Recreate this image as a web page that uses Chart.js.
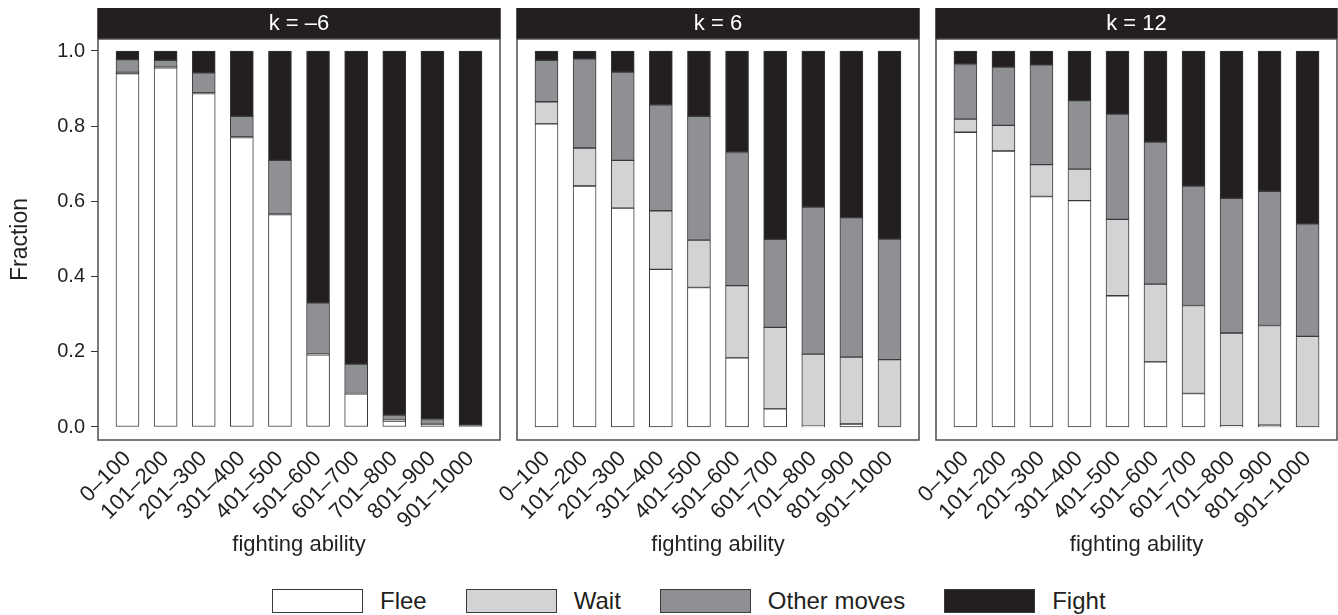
<!DOCTYPE html>
<html lang="en">
<head>
<meta charset="utf-8">
<title>Fraction by fighting ability</title>
<script src="https://cdn.jsdelivr.net/npm/chart.js@4.4.1/dist/chart.umd.min.js"></script>
<style>
    html, body { margin: 0; padding: 0; background: #ffffff; }
    #pagina {
        position: relative; width: 1338px; height: 615px; overflow: hidden;
        font-family: "Liberation Sans", Arial, sans-serif; color: #231f20;
    }
    .pannello { position: absolute; top: 0; }
    #legenda {
        position: absolute; left: 272px; top: 589px;
        display: flex; align-items: center; font-size: 24px; line-height: 24px;
    }
    .voce { display: flex; align-items: center; margin-right: 39px; }
    .quadrato { width: 89px; height: 22px; border: 1px solid #3a3a3a; margin-right: 17px; }
</style>
</head>
<body>
<div id="pagina">
    <canvas id="canvasA" class="pannello" width="505" height="570" style="left:0px"></canvas>
    <canvas id="canvasB" class="pannello" width="467" height="570" style="left:457px"></canvas>
    <canvas id="canvasC" class="pannello" width="462" height="570" style="left:876px"></canvas>
    <div id="legenda"></div>
</div>
<script>
"use strict";

// ============================================================
// DATI (frazioni, ogni colonna somma a 1)
// ============================================================
const fasce = ["0–100", "101–200", "201–300", "301–400", "401–500",
               "501–600", "601–700", "701–800", "801–900", "901–1000"];
const titoliPannelli = ["k = –6", "k = 6", "k = 12"];
const tickY = [0, 0.2, 0.4, 0.6, 0.8, 1.0];
const serie = ["Flee", "Wait", "Other moves", "Fight"];
const colori = ["#ffffff", "#d1d3d4", "#8e9094", "#231f20"];

// k = -6
const fleeKm6  = [0.940, 0.955, 0.887, 0.770, 0.565, 0.192, 0.088, 0.016, 0.008, 0.000];
const waitKm6  = [0.003, 0.002, 0.002, 0.002, 0.002, 0.002, 0.001, 0.002, 0.001, 0.000];
const otherKm6 = [0.034, 0.018, 0.053, 0.054, 0.142, 0.136, 0.078, 0.014, 0.011, 0.004];
const fightKm6 = [0.023, 0.025, 0.058, 0.174, 0.291, 0.670, 0.833, 0.968, 0.980, 0.996];

// k = 6
const fleeK6  = [0.806, 0.641, 0.582, 0.419, 0.371, 0.184, 0.048, 0.002, 0.008, 0.000];
const waitK6  = [0.059, 0.101, 0.127, 0.156, 0.126, 0.192, 0.217, 0.192, 0.178, 0.179];
const otherK6 = [0.110, 0.237, 0.235, 0.282, 0.329, 0.354, 0.234, 0.391, 0.371, 0.321];
const fightK6 = [0.025, 0.021, 0.056, 0.143, 0.174, 0.270, 0.501, 0.415, 0.443, 0.500];

// k = 12
const fleeK12  = [0.784, 0.734, 0.613, 0.602, 0.349, 0.173, 0.089, 0.003, 0.005, 0.000];
const waitK12  = [0.035, 0.068, 0.085, 0.084, 0.203, 0.207, 0.234, 0.247, 0.265, 0.241];
const otherK12 = [0.145, 0.155, 0.265, 0.182, 0.280, 0.378, 0.318, 0.358, 0.357, 0.299];
const fightK12 = [0.036, 0.043, 0.037, 0.132, 0.168, 0.242, 0.359, 0.392, 0.373, 0.460];

const datiPannelli = [
    [fleeKm6, waitKm6, otherKm6, fightKm6],
    [fleeK6, waitK6, otherK6, fightK6],
    [fleeK12, waitK12, otherK12, fightK12]
];

const COLORE_TESTO = "#231f20";
Chart.defaults.font.family = "'Liberation Sans', Arial, sans-serif";
Chart.defaults.color = COLORE_TESTO;

// ============================================================
// PLUGIN — striscia nera col titolo e riquadro del pannello
// ============================================================
const pluginRiquadro = {
    id: "riquadro",
    afterDraw(chart, args, opts) {
        let a = chart.chartArea;
        let ctx = chart.ctx;
        ctx.save();
        // striscia sopra il pannello
        ctx.fillStyle = "#231f20";
        ctx.fillRect(a.left - 0.75, a.top - 31, a.right - a.left + 1.5, 31);
        ctx.fillStyle = "#ffffff";
        ctx.font = "22px 'Liberation Sans', Arial, sans-serif";
        ctx.textAlign = "center";
        ctx.textBaseline = "middle";
        ctx.fillText(opts.testo, (a.left + a.right) / 2, a.top - 15);
        // bordo del pannello
        ctx.strokeStyle = "#4d4d4d";
        ctx.lineWidth = 1.5;
        ctx.strokeRect(a.left, a.top, a.right - a.left, a.bottom - a.top);
        ctx.restore();
    }
};

// ============================================================
// creaPannello() — un grafico a barre impilate per ogni k
// ============================================================
function creaPannello(idCanvas, indice, conAsseY, padSx, padDx) {
    let datasets = [];
    for (let s = 0; s < serie.length; s++) {
        datasets.push({
            label: serie[s],
            data: datiPannelli[indice][s].map((v, i) => ({ x: i + 1, y: v })),
            backgroundColor: colori[s],
            borderColor: "#3a3a3a",
            borderWidth: 1,
            borderSkipped: false,
            barThickness: 23
        });
    }

    return new Chart(document.getElementById(idCanvas), {
        type: "bar",
        data: { datasets: datasets },
        plugins: [pluginRiquadro],
        options: {
            responsive: false,
            animation: false,
            events: [],
            layout: { padding: { left: padSx, right: padDx, top: 39, bottom: 0 } },
            plugins: {
                legend: { display: false },
                tooltip: { enabled: false },
                riquadro: { testo: titoliPannelli[indice] }
            },
            scales: {
                x: {
                    type: "linear",
                    stacked: true,
                    offset: false,
                    bounds: "data",
                    min: 0.226,
                    max: 10.774,
                    grid: { display: false, drawTicks: false, offset: false },
                    border: { display: false },
                    afterBuildTicks: function (s) {
                        s.ticks = fasce.map((f, i) => ({ value: i + 1 }));
                    },
                    ticks: {
                        autoSkip: false,
                        minRotation: 45,
                        maxRotation: 45,
                        padding: 6,
                        font: { size: 22 },
                        callback: v => fasce[v - 1]
                    },
                    title: {
                        display: true,
                        text: "fighting ability",
                        font: { size: 22 },
                        padding: { top: 0, bottom: 12 }
                    },
                    afterFit: function (s) { s.height = 130; }
                },
                y: {
                    type: "linear",
                    stacked: true,
                    display: conAsseY,
                    bounds: "data",
                    min: -0.0346,
                    max: 1.0319,
                    afterBuildTicks: function (s) {
                        s.ticks = tickY.map(v => ({ value: v }));
                    },
                    ticks: {
                        padding: 6,
                        font: { size: 20 },
                        callback: v => v.toFixed(1)
                    },
                    grid: { display: true, drawOnChartArea: false, tickLength: 7, color: "#333333" },
                    border: { display: false },
                    title: {
                        display: true,
                        text: "Fraction",
                        font: { size: 23 },
                        padding: { top: 7, bottom: 0 }
                    },
                    // solo il primo pannello ha l'asse Y con le etichette
                    afterFit: function (s) { s.width = conAsseY ? 98 : 0; }
                }
            }
        }
    });
}

// ============================================================
// creaLegenda() — legenda in basso, costruita dalle serie
// ============================================================
function creaLegenda() {
    let legenda = document.getElementById("legenda");
    for (let i = 0; i < serie.length; i++) {
        let voce = document.createElement("div");
        voce.className = "voce";
        let quadrato = document.createElement("div");
        quadrato.className = "quadrato";
        quadrato.style.background = colori[i];
        let testo = document.createElement("span");
        testo.textContent = serie[i];
        voce.appendChild(quadrato);
        voce.appendChild(testo);
        legenda.appendChild(voce);
    }
}

// ============================================================
// AVVIO
// ============================================================
creaPannello("canvasA", 0, true, 0, 5);
creaPannello("canvasB", 1, false, 60, 5);
creaPannello("canvasC", 2, false, 60, 1);
creaLegenda();
</script>
</body>
</html>
